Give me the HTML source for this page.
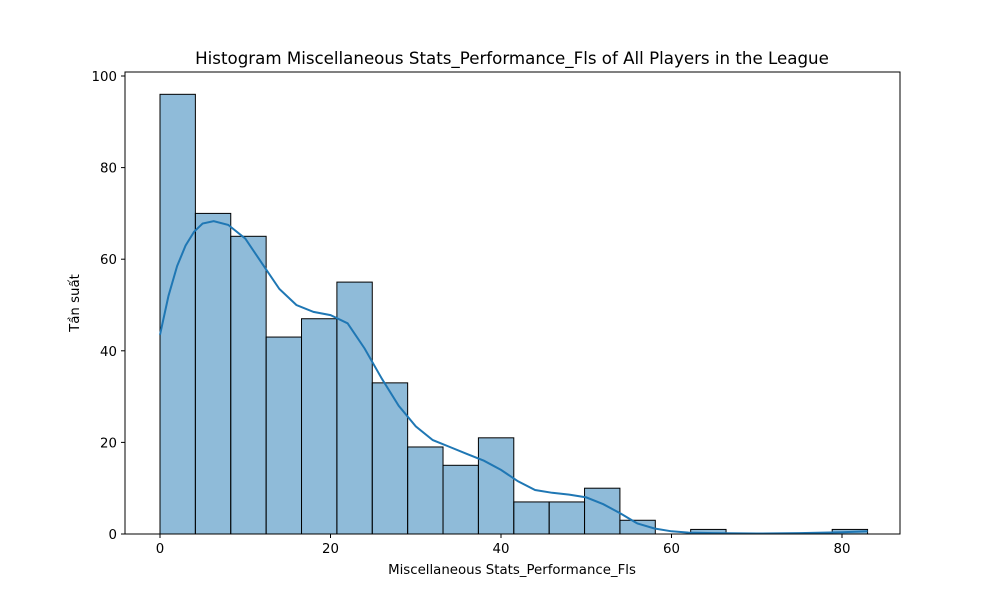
<!DOCTYPE html>
<html><head><meta charset="utf-8"><style>
body{margin:0;background:#fff;font-family:"Liberation Sans","DejaVu Sans",sans-serif;}
text{font-family:"DejaVu Sans","Liberation Sans",sans-serif;}
</style></head><body>
<svg width="1000" height="600" id="chart">
<rect x="0" y="0" width="1000" height="600" fill="#fff"/>
<text x="512" y="64" font-size="16.67" text-anchor="middle">Histogram Miscellaneous Stats_Performance_Fls of All Players in the League</text>
<g id="bars"></g>
<path id="kde" fill="none" stroke="#1f77b4" stroke-width="2"/>
<g id="axes"></g>
<rect x="125" y="72" width="775" height="462" fill="none" stroke="#000" stroke-width="1"/>
<text x="512" y="574" font-size="13.33" text-anchor="middle">Miscellaneous Stats_Performance_Fls</text>
<text transform="translate(79,303) rotate(-90)" font-size="13.33" text-anchor="middle">Tần suất</text>
</svg>
<script>
const binStart = 0;
const binWidth = 4.15;
const counts = [96,70,65,43,47,55,33,19,15,21,7,7,10,3,0,1,0,0,0,1];
const kdeX = [0,1,2,3,4,5,6.3,8,10,12,14,16,18,20,22,24,26,28,30,32,34,36,38,40,42,44,46,48,50,52,54,56,58,60,62,65,70,75,80,83];
const kdeY = [43.5,52,58.5,63,66,67.8,68.3,67.5,64.5,59,53.5,50,48.5,47.8,46,40.5,34,28,23.5,20.5,19,17.5,16,14,11.5,9.6,9,8.6,8,6.5,4.5,2.3,1.2,0.6,0.3,0.2,0.1,0.2,0.4,0.6];
const xTicks = [0,20,40,60,80];
const yTicks = [0,20,40,60,80,100];
const sx = v => 160 + v*(170.5/20);
const sy = v => 534 - v*4.58;
const NS='http://www.w3.org/2000/svg';
const bars=document.getElementById('bars');
counts.forEach((c,i)=>{
  if(c<=0) return;
  const r=document.createElementNS(NS,'rect');
  const x0=sx(binStart+i*binWidth), x1=sx(binStart+(i+1)*binWidth);
  r.setAttribute('x',x0);r.setAttribute('width',x1-x0);
  r.setAttribute('y',sy(c));r.setAttribute('height',sy(0)-sy(c));
  r.setAttribute('fill','rgba(31,119,180,0.5)');r.setAttribute('stroke','#000');r.setAttribute('stroke-width','1');
  
  
  bars.appendChild(r);
});
document.getElementById('kde').setAttribute('d',kdeX.map((x,i)=>(i?'L':'M')+sx(x).toFixed(1)+','+sy(kdeY[i]).toFixed(1)).join(''));
const axes=document.getElementById('axes');
xTicks.forEach(t=>{
  const l=document.createElementNS(NS,'line');
  l.setAttribute('x1',sx(t));l.setAttribute('x2',sx(t));l.setAttribute('y1',534);l.setAttribute('y2',538);l.setAttribute('stroke','#000');
  
  
  axes.appendChild(l);
  const tx=document.createElementNS(NS,'text');
  tx.setAttribute('x',sx(t));tx.setAttribute('y',553);tx.setAttribute('font-size','13.33');tx.setAttribute('text-anchor','middle');
  tx.textContent=t;
  
  
  axes.appendChild(tx);
});
yTicks.forEach(t=>{
  const l=document.createElementNS(NS,'line');
  l.setAttribute('x1',121);l.setAttribute('x2',125);l.setAttribute('y1',sy(t));l.setAttribute('y2',sy(t));l.setAttribute('stroke','#000');
  
  
  axes.appendChild(l);
  const tx=document.createElementNS(NS,'text');
  tx.setAttribute('x',117);tx.setAttribute('y',sy(t)+5);tx.setAttribute('font-size','13.33');tx.setAttribute('text-anchor','end');
  tx.textContent=t;
  
  
  axes.appendChild(tx);
});
</script>
</body></html>
